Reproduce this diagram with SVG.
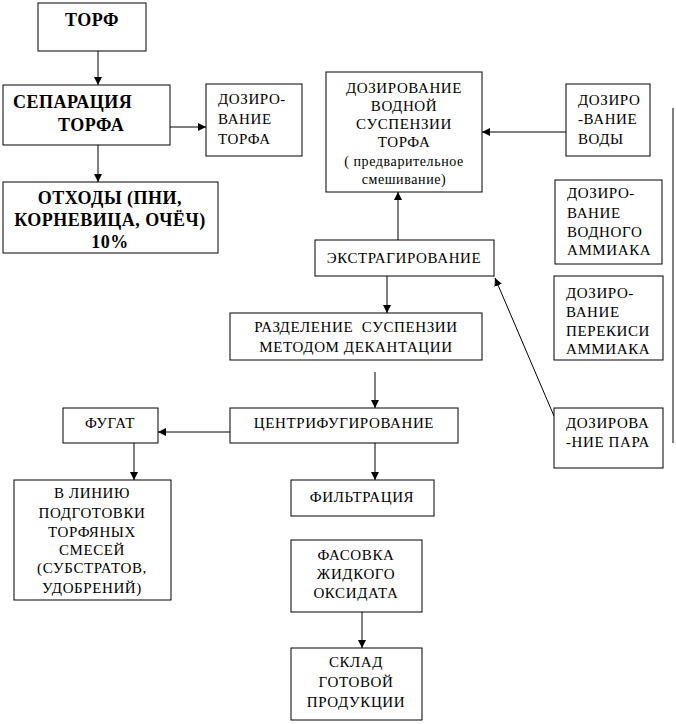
<svg xmlns="http://www.w3.org/2000/svg" width="676" height="724" viewBox="0 0 676 724">
<style>
rect{fill:#fff;stroke:#000;stroke-width:1}
text{font-family:'Liberation Serif','Times New Roman',serif;font-size:15px;fill:#000;letter-spacing:0.6px}
.b{font-weight:bold;font-size:18px;letter-spacing:0.5px}
.s{font-size:14px}
.c{text-anchor:middle}
.ln{stroke:#000;stroke-width:1;fill:none}
</style>
<defs>
<marker id="ah" viewBox="0 0 10 10" refX="10" refY="5" markerWidth="8" markerHeight="8" markerUnits="userSpaceOnUse" orient="auto">
<path d="M0,0 L10,5 L0,10 z" fill="#000"/>
</marker>
</defs>
<rect width="676" height="724" style="stroke:none"/>
<g id="connectors">
<line class="ln" x1="98" y1="51" x2="98" y2="85" marker-end="url(#ah)"/>
<line class="ln" x1="98" y1="145" x2="98" y2="182" marker-end="url(#ah)"/>
<line class="ln" x1="170" y1="127" x2="206" y2="127" marker-end="url(#ah)"/>
<line class="ln" x1="566" y1="132" x2="482" y2="132" marker-end="url(#ah)"/>
<line class="ln" x1="398" y1="240" x2="398" y2="192" marker-end="url(#ah)"/>
<line class="ln" x1="554" y1="416" x2="495" y2="278" marker-end="url(#ah)"/>
<line class="ln" x1="387" y1="276" x2="387" y2="313" marker-end="url(#ah)"/>
<line class="ln" x1="375" y1="372" x2="375" y2="408" marker-end="url(#ah)"/>
<line class="ln" x1="230" y1="432" x2="158" y2="432" marker-end="url(#ah)"/>
<line class="ln" x1="134" y1="443" x2="134" y2="480" marker-end="url(#ah)"/>
<line class="ln" x1="375" y1="443" x2="375" y2="480" marker-end="url(#ah)"/>
<line class="ln" x1="362" y1="612" x2="362" y2="648" marker-end="url(#ah)"/>
<line class="ln" x1="673" y1="108" x2="673" y2="443"/>
</g>
<g id="torf"><rect x="38" y="3" width="108" height="48"/><text class="b c" x="92" y="26">ТОРФ</text></g>
<g id="separation"><rect x="3" y="85" width="167" height="60"/><text class="b" x="13" y="108">СЕПАРАЦИЯ</text><text class="b" x="58" y="131">ТОРФА</text></g>
<g id="doz-torf"><rect x="206" y="84" width="96" height="72"/><text x="218" y="104">ДОЗИРО-</text><text x="218" y="124">ВАНИЕ</text><text x="218" y="144">ТОРФА</text></g>
<g id="waste"><rect x="3" y="182" width="215" height="71"/><text class="b c" x="110" y="204">ОТХОДЫ (ПНИ,</text><text class="b c" x="110" y="226">КОРНЕВИЦА, ОЧЁЧ)</text><text class="b c" x="110" y="248">10%</text></g>
<g id="suspension"><rect x="326" y="72" width="156" height="120"/>
<text class="c" x="404" y="93">ДОЗИРОВАНИЕ</text><text class="c" x="404" y="111">ВОДНОЙ</text><text class="c" x="404" y="129">СУСПЕНЗИИ</text><text class="c" x="404" y="147">ТОРФА</text>
<text class="s c" x="404" y="166">( предварительное</text><text class="s c" x="404" y="184">смешивание)</text></g>
<g id="doz-water"><rect x="566" y="84" width="84" height="72"/><text x="578" y="105">ДОЗИРО</text><text x="578" y="124">-ВАНИЕ</text><text x="578" y="144">ВОДЫ</text></g>
<g id="doz-ammonia"><rect x="555" y="180" width="107" height="84"/><text x="567" y="198">ДОЗИРО-</text><text x="567" y="218">ВАНИЕ</text><text x="567" y="237">ВОДНОГО</text><text x="567" y="255">АММИАКА</text></g>
<g id="doz-peroxide"><rect x="554" y="276" width="109" height="84"/><text x="566" y="298">ДОЗИРО-</text><text x="566" y="317">ВАНИЕ</text><text x="566" y="336">ПЕРЕКИСИ</text><text x="566" y="354">АММИАКА</text></g>
<g id="doz-steam"><rect x="554" y="408" width="109" height="60"/><text x="566" y="428">ДОЗИРОВА</text><text x="566" y="447">-НИЕ ПАРА</text></g>
<g id="extraction"><rect x="315" y="240" width="179" height="36"/><text class="c" x="404" y="263">ЭКСТРАГИРОВАНИЕ</text></g>
<g id="decant"><rect x="230" y="313" width="252" height="47"/><text class="c" x="356" y="332" xml:space="preserve">РАЗДЕЛЕНИЕ  СУСПЕНЗИИ</text><text class="c" x="356" y="352">МЕТОДОМ ДЕКАНТАЦИИ</text></g>
<g id="centrifuge"><rect x="230" y="408" width="228" height="35"/><text class="c" x="344" y="428">ЦЕНТРИФУГИРОВАНИЕ</text></g>
<g id="fugat"><rect x="63" y="408" width="95" height="35"/><text class="c" x="110" y="428">ФУГАТ</text></g>
<g id="line"><rect x="14" y="480" width="157" height="120"/>
<text class="c" x="92" y="498">В ЛИНИЮ</text><text class="c" x="92" y="518">ПОДГОТОВКИ</text><text class="c" x="92" y="537">ТОРФЯНЫХ</text><text class="c" x="92" y="555">СМЕСЕЙ</text><text class="c" x="92" y="573">(СУБСТРАТОВ,</text><text class="c" x="92" y="593">УДОБРЕНИЙ)</text></g>
<g id="filtration"><rect x="291" y="480" width="143" height="36"/><text class="c" x="362" y="502">ФИЛЬТРАЦИЯ</text></g>
<g id="packing"><rect x="291" y="540" width="131" height="72"/><text class="c" x="356" y="560">ФАСОВКА</text><text class="c" x="356" y="579">ЖИДКОГО</text><text class="c" x="356" y="598">ОКСИДАТА</text></g>
<g id="warehouse"><rect x="291" y="648" width="131" height="72"/><text class="c" x="356" y="667">СКЛАД</text><text class="c" x="356" y="687">ГОТОВОЙ</text><text class="c" x="356" y="707">ПРОДУКЦИИ</text></g>
</svg>
